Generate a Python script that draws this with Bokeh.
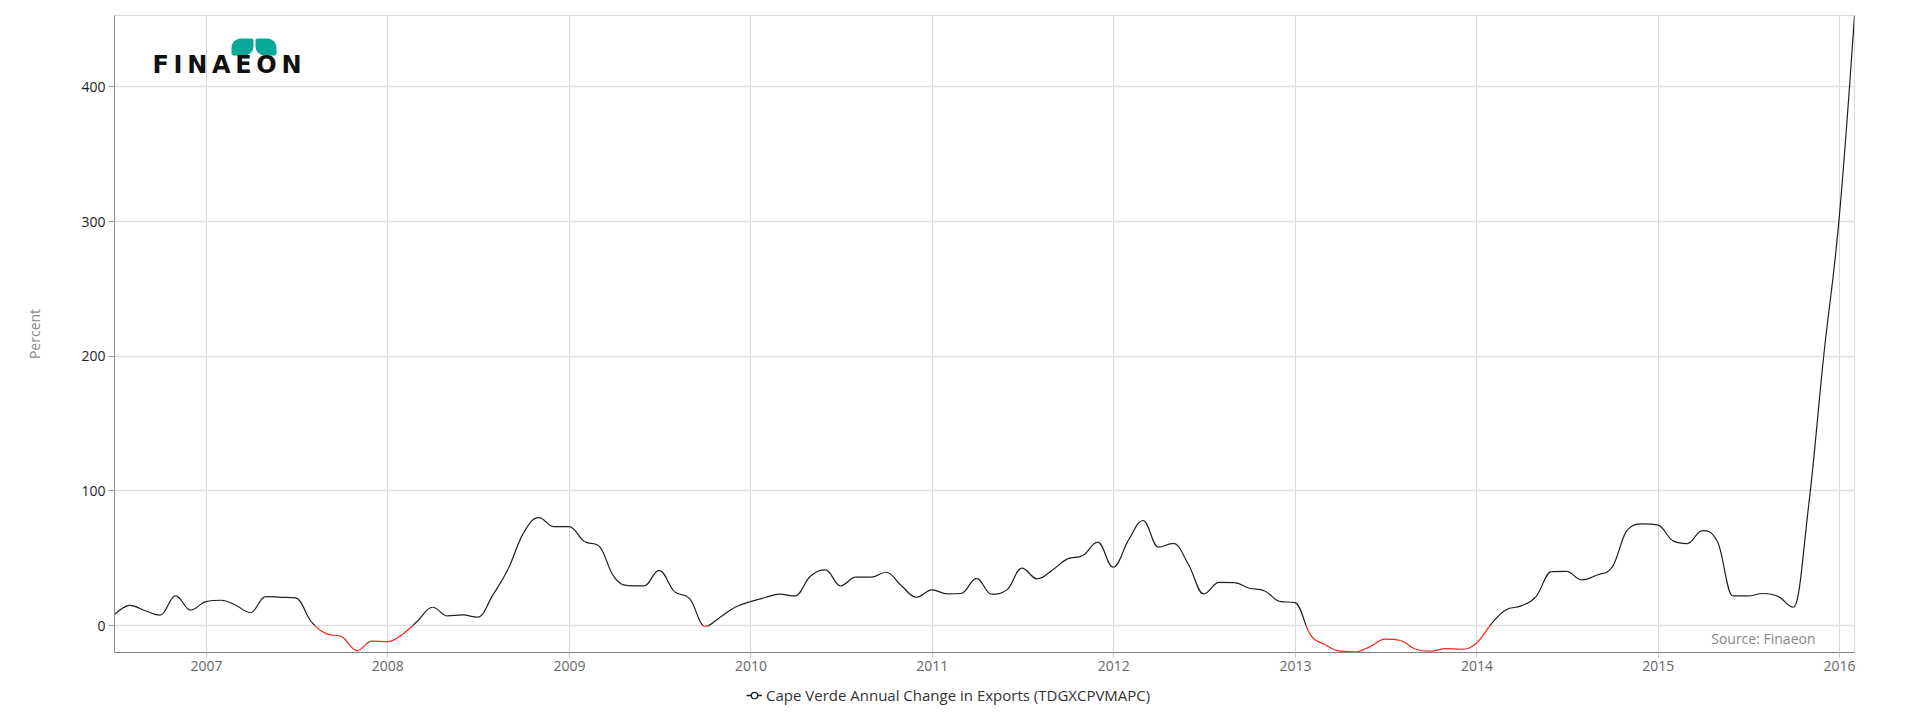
import numpy as np
import pandas as pd
from bokeh.plotting import figure
from bokeh.layouts import column
from bokeh.models import (ColumnDataSource, Range1d, FixedTicker, DatetimeTickFormatter,
                          Legend, LegendItem, Label, BoxAnnotation)
from bokeh.embed import file_html
from bokeh.resources import INLINE

# ---------------- data (monthly, end of month) ----------------
first_month = "2006-06-30"
values_2006 = [8.0, 15.0, 11.0, 7.7, 22.0, 11.5, 17.8]                      # Jun..Dec
values_2007 = [18.8, 15.3, 9.7, 21.5, 21.0, 20.5, 3.0, -6.2, -8.2, -18.6, -11.6, -11.9]
values_2008 = [-6.4, 3.0, 13.6, 7.2, 7.9, 6.2, 23.0, 42.6, 68.6, 80.2, 73.5, 73.5]
values_2009 = [62.4, 59.4, 36.4, 29.7, 29.5, 41.0, 25.2, 19.8, -0.5, 6.2, 13.6, 17.8]
values_2010 = [21.0, 23.3, 22.0, 36.4, 41.3, 29.5, 35.9, 35.9, 39.6, 29.5, 21.0, 26.5]
values_2011 = [23.5, 23.8, 35.1, 23.3, 26.5, 42.6, 34.7, 41.3, 49.5, 52.0, 61.9, 43.3]
values_2012 = [63.6, 78.0, 58.2, 61.1, 45.0, 23.5, 32.0, 31.9, 27.7, 25.7, 18.0, 17.0]
values_2013 = [-6.9, -13.9, -19.0, -19.6, -15.6, -10.1, -11.1, -17.6, -19.0, -17.1, -17.6, -13.1]
values_2014 = [1.7, 11.6, 14.6, 21.5, 40.1, 40.3, 33.9, 37.6, 43.3, 71.0, 75.5, 74.8]
values_2015 = [62.9, 60.9, 70.5, 62.4, 22.0, 22.0, 23.8, 21.5, 13.6, 90.0, 200.0, 302.0]
values_2016 = [453.0]

tick_years = [2007, 2008, 2009, 2010, 2011, 2012, 2013, 2014, 2015, 2016]
y_ticks = [0, 100, 200, 300, 400]
series_name = "Cape Verde Annual Change in Exports (TDGXCPVMAPC)"

values = (values_2006 + values_2007 + values_2008 + values_2009 + values_2010 +
          values_2011 + values_2012 + values_2013 + values_2014 + values_2015 + values_2016)
dates = pd.date_range(first_month, periods=len(values), freq=pd.offsets.MonthEnd())
xs = dates.values.astype("datetime64[ms]").astype(np.int64).astype(float)
ys = np.array(values, dtype=float)

# ---------------- spline (Highcharts style) control points ----------------
def spline_controls(x, y, smoothing=1.5):
    n = len(x)
    left = np.zeros((n, 2))
    right = np.zeros((n, 2))
    for i in range(n):
        if i == 0 or i == n - 1:
            left[i] = right[i] = (x[i], y[i])
            continue
        lx, ly = x[i - 1], y[i - 1]
        px, py = x[i], y[i]
        nx, ny = x[i + 1], y[i + 1]
        d = smoothing + 1
        lcx = (smoothing * px + lx) / d
        lcy = (smoothing * py + ly) / d
        rcx = (smoothing * px + nx) / d
        rcy = (smoothing * py + ny) / d
        corr = 0.0
        if rcx != lcx:
            corr = (rcy - lcy) * (rcx - px) / (rcx - lcx) + py - rcy
        lcy += corr
        rcy += corr
        if lcy > ly and lcy > py:
            lcy = max(ly, py); rcy = 2 * py - lcy
        elif lcy < ly and lcy < py:
            lcy = min(ly, py); rcy = 2 * py - lcy
        if rcy > ny and rcy > py:
            rcy = max(ny, py); lcy = 2 * py - rcy
        elif rcy < ny and rcy < py:
            rcy = min(ny, py); lcy = 2 * py - rcy
        left[i] = (lcx, lcy)
        right[i] = (rcx, rcy)
    return left, right


def split_bezier(P, t):
    p01 = P[0] + (P[1] - P[0]) * t
    p12 = P[1] + (P[2] - P[1]) * t
    p23 = P[2] + (P[3] - P[2]) * t
    p012 = p01 + (p12 - p01) * t
    p123 = p12 + (p23 - p12) * t
    m = p012 + (p123 - p012) * t
    return [P[0], p01, p012, m], [m, p123, p23, P[3]]


def bez_y(P, t):
    return ((1 - t) ** 3 * P[0][1] + 3 * (1 - t) ** 2 * t * P[1][1] +
            3 * (1 - t) * t ** 2 * P[2][1] + t ** 3 * P[3][1])


left, right = spline_controls(xs, ys)
keys = ("x0", "y0", "x1", "y1", "cx0", "cy0", "cx1", "cy1")
pos = {k: [] for k in keys}
neg = {k: [] for k in keys}

for i in range(1, len(xs)):
    P = [np.array([xs[i - 1], ys[i - 1]]), right[i - 1].copy(), left[i].copy(),
         np.array([xs[i], ys[i]])]
    y0, y1, y2, y3 = P[0][1], P[1][1], P[2][1], P[3][1]
    coeffs = [-y0 + 3 * y1 - 3 * y2 + y3, 3 * y0 - 6 * y1 + 3 * y2, -3 * y0 + 3 * y1, y0]
    while len(coeffs) > 1 and abs(coeffs[0]) < 1e-12:
        coeffs = coeffs[1:]
    roots = np.roots(coeffs) if len(coeffs) > 1 else []
    ts = sorted(float(r.real) for r in roots if abs(r.imag) < 1e-9 and 1e-6 < r.real < 1 - 1e-6)
    pieces = []
    rest = P
    prev = 0.0
    for t in ts:
        local = (t - prev) / (1 - prev)
        a_piece, rest = split_bezier(rest, local)
        pieces.append(a_piece)
        prev = t
    pieces.append(rest)
    for piece in pieces:
        target = neg if bez_y(piece, 0.5) < 0 else pos
        target["x0"].append(piece[0][0]); target["y0"].append(piece[0][1])
        target["cx0"].append(piece[1][0]); target["cy0"].append(piece[1][1])
        target["cx1"].append(piece[2][0]); target["cy1"].append(piece[2][1])
        target["x1"].append(piece[3][0]); target["y1"].append(piece[3][1])

# ---------------- main figure ----------------
y_start, y_end = -20, 453
x_start, x_end = xs[0], xs[-1]

# frame in page pixels
FL, FR, FT, FB = 114, 1854, 15, 652
W, H_MAIN, H_LEG = 1920, 682, 38

p = figure(width=W, height=H_MAIN, x_axis_type="datetime",
           x_range=Range1d(x_start, x_end), y_range=Range1d(y_start, y_end),
           output_backend="svg", toolbar_location=None,
           min_border_left=FL, min_border_right=W - FR, min_border_top=FT,
           min_border_bottom=H_MAIN - FB)
p.background_fill_color = "white"
p.border_fill_color = "white"
p.outline_line_color = "#dcdcdc"

LINE_BLACK = "#1f1f1f"
LINE_RED = "#ff2020"
p.bezier(x0="x0", y0="y0", x1="x1", y1="y1", cx0="cx0", cy0="cy0", cx1="cx1", cy1="cy1",
         source=ColumnDataSource(pos), line_color=LINE_BLACK, line_width=1.2)
p.bezier(x0="x0", y0="y0", x1="x1", y1="y1", cx0="cx0", cy0="cy0", cx1="cx1", cy1="cy1",
         source=ColumnDataSource(neg), line_color=LINE_RED, line_width=1.2)

FONT = "Open Sans"

# axes
year_ms = [pd.Timestamp(f"{y}-01-01").value / 1e6 for y in tick_years]
p.xaxis.ticker = FixedTicker(ticks=year_ms)
p.xaxis.formatter = DatetimeTickFormatter(years="%Y", months="%Y", days="%Y", hours="%Y",
                                          minutes="%Y", seconds="%Y", milliseconds="%Y")
p.xaxis.major_label_text_font = FONT
p.xaxis.major_label_text_font_size = "14px"
p.xaxis.major_label_text_color = "#666666"
p.xaxis.axis_line_color = "#808080"
p.xaxis.axis_line_width = 1.2
p.xaxis.major_tick_line_color = "#c8c8c8"
p.xaxis.major_tick_out = 5
p.xaxis.major_tick_in = 0
p.xaxis.minor_tick_line_color = None
p.xaxis.major_label_standoff = 3

p.yaxis.ticker = FixedTicker(ticks=y_ticks)
p.yaxis.major_label_text_font = FONT
p.yaxis.major_label_text_font_size = "14px"
p.yaxis.major_label_text_color = "#222222"
p.yaxis.axis_line_color = "#909090"
p.yaxis.major_tick_line_color = "#a0a0a0"
p.yaxis.major_tick_out = 6
p.yaxis.major_tick_in = 0
p.yaxis.minor_tick_line_color = None
p.yaxis.major_label_standoff = 3
p.yaxis.axis_label = "Percent"
p.yaxis.axis_label_text_font = FONT
p.yaxis.axis_label_text_font_size = "14px"
p.yaxis.axis_label_text_font_style = "normal"
p.yaxis.axis_label_text_color = "#888888"
p.yaxis.axis_label_standoff = 34

p.xgrid.grid_line_color = "#d9d9d9"
p.xgrid.grid_line_width = 1
p.ygrid.grid_line_color = "#e0e0e0"
p.ygrid.grid_line_width = 1.3

# pixel helpers (page px -> data) for decorations
def px_x(px):
    return x_start + (px - FL) / (FR - FL) * (x_end - x_start)
def px_y(py):
    return y_end - (py - FT) / (FB - FT) * (y_end - y_start)

# source credit
p.add_layout(Label(x=px_x(1815), y=px_y(638), text="Source: Finaeon", text_align="right",
                   text_baseline="middle", text_font=FONT, text_font_size="14px",
                   text_color="#888888"))

# logo (leaves + letter-spaced wordmark)
TEAL = "#0aa89a"
p.add_layout(BoxAnnotation(left=px_x(231), right=px_x(253), top=px_y(38), bottom=px_y(55),
                           fill_color=TEAL, fill_alpha=1, line_alpha=0,
                           border_radius=dict(top_left=9, top_right=2, bottom_right=9, bottom_left=2)))
p.add_layout(BoxAnnotation(left=px_x(255), right=px_x(276), top=px_y(38), bottom=px_y(55),
                           fill_color=TEAL, fill_alpha=1, line_alpha=0,
                           border_radius=dict(top_left=2, top_right=9, bottom_right=2, bottom_left=9)))
logo_text = "FINAEON"
LOGO_SIZE = 24
# approximate DejaVu Sans Bold advance widths (em)
adv_em = {"F": 0.683, "I": 0.372, "N": 0.837, "A": 0.774, "E": 0.683, "O": 0.850}
logo_left, logo_right = 152, 301
advs = [adv_em[c] * LOGO_SIZE for c in logo_text]
gap = (logo_right - logo_left - sum(advs)) / (len(logo_text) - 1)
cur = logo_left
for ch, a in zip(logo_text, advs):
    p.add_layout(Label(x=px_x(cur), y=px_y(64.5), text=ch, text_align="left",
                       text_baseline="alphabetic", text_font="DejaVu Sans",
                       text_font_style="bold", text_font_size=f"{LOGO_SIZE}px",
                       text_color="#111111"))
    cur += a + gap

# ---------------- legend strip below (frame is aligned with the main frame) ----------------
lg = figure(width=W, height=H_LEG, x_range=Range1d(0, 1), y_range=Range1d(0, 1),
            output_backend="svg", toolbar_location=None,
            min_border_left=0, min_border_right=0, min_border_top=0, min_border_bottom=0)
lg.axis.visible = False
lg.grid.visible = False
lg.outline_line_color = None
lg.background_fill_color = "white"
lg.border_fill_color = "white"
# legend proxies: placed outside the strip's ranges so only the legend icon shows
leg_line = lg.line(x=[-5, -4], y=[-5, -5], line_color=LINE_BLACK, line_width=1.5)
leg_mark = lg.scatter(x=[-5], y=[-5], marker="circle", size=6, fill_color="white",
                      line_color=LINE_BLACK, line_width=1.3)
legend = Legend(items=[LegendItem(label=series_name, renderers=[leg_line, leg_mark])],
                location=(746 - FL, 15), orientation="horizontal",
                border_line_alpha=0, background_fill_alpha=0, padding=0, margin=0,
                glyph_width=16, glyph_height=20, label_standoff=4,
                label_text_font=FONT, label_text_font_size="15px", label_text_color="#333333")
lg.add_layout(legend, "center")

layout = column(p, lg, spacing=0)
open("out.html", "w").write(file_html(layout, INLINE))
